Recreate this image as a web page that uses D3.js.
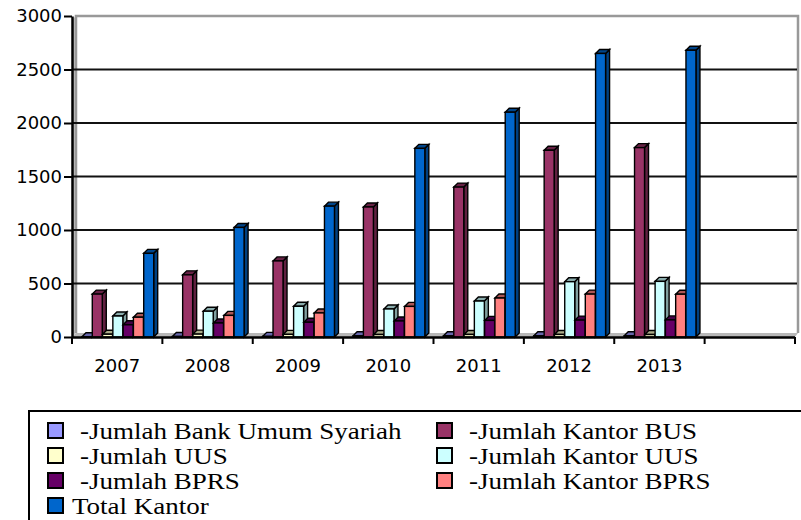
<!DOCTYPE html>
<html>
<head>
<meta charset="utf-8">
<script src="https://cdn.jsdelivr.net/npm/d3@7"></script>
<style>
  body { margin: 0; background: #fff; }
</style>
</head>
<body>
<script>
// data
var years = ["2007", "2008", "2009", "2010", "2011", "2012", "2013"];
var bankUmumSyariah = [3, 5, 6, 11, 11, 11, 11];
var kantorBUS = [401, 581, 711, 1215, 1401, 1745, 1770];
var jumlahUUS = [26, 27, 25, 23, 24, 24, 23];
var kantorUUS = [196, 241, 287, 262, 336, 517, 520];
var jumlahBPRS = [114, 131, 138, 150, 155, 158, 160];
var kantorBPRS = [185, 202, 225, 286, 364, 401, 400];
var totalKantor = [782, 1024, 1223, 1763, 2101, 2650, 2680];
var yTicks = [0, 500, 1000, 1500, 2000, 2500, 3000];

var seriesNames = [" -Jumlah Bank Umum Syariah", " -Jumlah Kantor BUS", " -Jumlah UUS", " -Jumlah Kantor UUS",
                   " -Jumlah BPRS", " -Jumlah Kantor BPRS", "Total Kantor"];
var seriesColors = ["#9999ff", "#993366", "#ffffcc", "#ccffff", "#660066", "#ff8080", "#0066cc"];
var seriesValues = [bankUmumSyariah, kantorBUS, jumlahUUS, kantorUUS, jumlahBPRS, kantorBPRS, totalKantor];

var w = 801, h = 520;
var dx = 4, dy = -4;   // 3d depth offset

var svg = d3.select("body").append("svg")
    .attr("width", w)
    .attr("height", h);

// last category is empty in the original
var x = d3.scaleBand()
    .domain(years.concat([""]))
    .range([72, 795]);

var inner = d3.scaleBand()
    .domain(d3.range(seriesNames.length))
    .range([10, 82]);

var y = d3.scaleLinear()
    .domain([0, 3000])
    .range([337, 16]);

// walls and floor
svg.append("polygon")
    .attr("points", [[72, 337], [72, 20], [76, 16], [76, 333]].join(" "))
    .attr("fill", "#c0c0c0");
svg.append("polygon")
    .attr("points", [[72, 337], [76, 333], [798, 333], [795, 337]].join(" "))
    .attr("fill", "#b8b8b8");
svg.append("polyline")
    .attr("points", [[76, 333], [76, 16], [798, 16], [798, 333]].join(" "))
    .attr("fill", "none")
    .attr("stroke", "#999")
    .attr("stroke-width", 2.5);

// gridlines
svg.selectAll("line.grid")
    .data(yTicks.filter(function (d) { return d > 0 && d < 3000; }))
    .enter()
    .append("line")
    .attr("class", "grid")
    .attr("x1", 72)
    .attr("x2", 797)
    .attr("y1", function (d) { return y(d); })
    .attr("y2", function (d) { return y(d); })
    .attr("stroke", "#111")
    .attr("stroke-width", 2);

// bars
var rows = [];
years.forEach(function (yr, i) {
    seriesValues.forEach(function (vals, s) {
        rows.push({ year: yr, s: s, v: vals[i] });
    });
});

var bw = inner.bandwidth() - 0.3;
var bars = svg.selectAll("g.bar")
    .data(rows)
    .enter()
    .append("g")
    .attr("class", "bar");

bars.append("polygon")
    .attr("points", function (d) {
        var x0 = x(d.year) + inner(d.s) + bw, yt = y(d.v), yb = y(0);
        return [[x0, yt], [x0 + dx, yt + dy], [x0 + dx, yb + dy], [x0, yb]].join(" ");
    })
    .attr("fill", function (d) { return d3.color(seriesColors[d.s]).darker(1.3); })
    .attr("stroke", "#000")
    .attr("stroke-width", 1.4);

bars.append("polygon")
    .attr("points", function (d) {
        var x0 = x(d.year) + inner(d.s), yt = y(d.v);
        return [[x0, yt], [x0 + dx, yt + dy], [x0 + bw + dx, yt + dy], [x0 + bw, yt]].join(" ");
    })
    .attr("fill", function (d) { return d3.color(seriesColors[d.s]).darker(1.1); })
    .attr("stroke", "#000")
    .attr("stroke-width", 1.4);

bars.append("rect")
    .attr("x", function (d) { return x(d.year) + inner(d.s); })
    .attr("y", function (d) { return y(d.v); })
    .attr("width", bw)
    .attr("height", function (d) { return y(0) - y(d.v); })
    .attr("fill", function (d) { return seriesColors[d.s]; })
    .attr("stroke", "#000")
    .attr("stroke-width", 1.4);

// y axis
var yAxis = svg.append("g")
    .attr("transform", "translate(72,0)")
    .call(d3.axisLeft(y).tickValues(yTicks).tickFormat(d3.format("d"))
        .tickSize(8).tickSizeOuter(0).tickPadding(2));
yAxis.select(".domain").attr("stroke", "#000").attr("stroke-width", 2.5);
yAxis.selectAll(".tick line").attr("stroke", "#000").attr("stroke-width", 2);
yAxis.selectAll(".tick text")
    .attr("font-family", "DejaVu Sans, sans-serif")
    .attr("font-size", "18px")
    .attr("fill", "#000");

// x axis
svg.append("line")
    .attr("x1", 72).attr("x2", 795)
    .attr("y1", 337.5).attr("y2", 337.5)
    .attr("stroke", "#000")
    .attr("stroke-width", 2.5);

var bounds = x.domain().map(function (d) { return x(d); }).concat([x.range()[1]]);
svg.selectAll("line.xtick")
    .data(bounds)
    .enter()
    .append("line")
    .attr("class", "xtick")
    .attr("x1", function (d) { return d; })
    .attr("x2", function (d) { return d; })
    .attr("y1", 337)
    .attr("y2", 344)
    .attr("stroke", "#000")
    .attr("stroke-width", 2);

svg.selectAll("text.xlab")
    .data(years)
    .enter()
    .append("text")
    .attr("class", "xlab")
    .attr("x", function (d) { return x(d) + x.bandwidth() / 2; })
    .attr("y", 372)
    .attr("text-anchor", "middle")
    .attr("font-family", "DejaVu Sans, sans-serif")
    .attr("font-size", "18px")
    .text(function (d) { return d; });

// legend
svg.append("rect")
    .attr("x", 29).attr("y", 411)
    .attr("width", 800).attr("height", 130)
    .attr("fill", "#fff")
    .attr("stroke", "#000")
    .attr("stroke-width", 2);

var legendPos = [[48, 0], [437, 0], [48, 1], [437, 1], [48, 2], [437, 2], [48, 3]];
var leg = svg.selectAll("g.leg")
    .data(seriesNames)
    .enter()
    .append("g")
    .attr("class", "leg")
    .attr("transform", function (d, i) {
        return "translate(" + legendPos[i][0] + "," + (423 + legendPos[i][1] * 25) + ")";
    });

leg.append("rect")
    .attr("width", 15).attr("height", 15)
    .attr("fill", function (d, i) { return seriesColors[i]; })
    .attr("stroke", "#000")
    .attr("stroke-width", 2);

leg.append("text")
    .attr("transform", function (d) {
        return "translate(" + (d.charAt(0) === " " ? 32 : 24) + ",16) scale(1.2,1)";
    })
    .attr("font-family", "Liberation Serif, Times New Roman, serif")
    .attr("font-size", "22.5px")
    .text(function (d) { return d.trim(); });
</script>
</body>
</html>
